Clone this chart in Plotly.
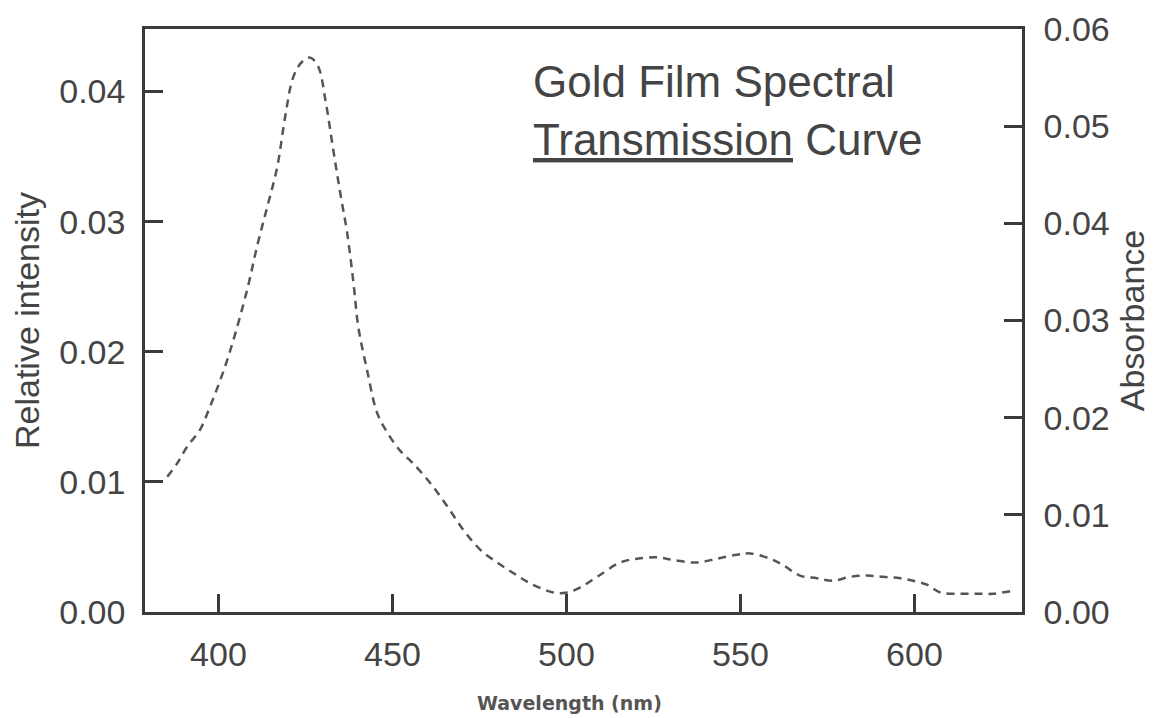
import plotly.graph_objects as go

# Curva de transmissão
comprimento_onda = [385.3, 388.1, 391.0, 394.7, 397.6, 400.5, 403.4, 408.2, 411.1, 414.0,
                    416.9, 419.2, 421.5, 424.1, 426.4, 428.7, 430.7, 433.0, 435.0, 437.0,
                    438.8, 440.2, 442.7, 445.6, 448.5, 452.2, 456.0, 460.9, 465.8, 470.4,
                    475.2, 480.1, 484.7, 489.6, 496.2, 500.2, 504.0, 508.8, 515.4, 520.3,
                    526.0, 530.6, 537.5, 543.3, 549.0, 552.8, 558.5, 562.3, 567.1, 572.0,
                    576.6, 581.5, 586.4, 591.0, 595.9, 599.6, 603.6, 607.4, 613.1, 618.0,
                    622.6, 627.5]
intensidade = [0.0104, 0.0114, 0.0127, 0.0140, 0.0158, 0.0178, 0.0201, 0.0247, 0.0281, 0.0311,
               0.0342, 0.0381, 0.0411, 0.0423, 0.0426, 0.0419, 0.0394, 0.0355, 0.0322, 0.0291,
               0.0253, 0.0219, 0.0186, 0.0153, 0.0138, 0.0124, 0.0114, 0.0099, 0.0081, 0.0063,
               0.0048, 0.0038, 0.0030, 0.0022, 0.0015, 0.0015, 0.0019, 0.0027, 0.0038, 0.0041,
               0.0042, 0.0040, 0.0038, 0.0041, 0.0044, 0.0045, 0.0041, 0.0036, 0.0028, 0.0026,
               0.0024, 0.0027, 0.0028, 0.0027, 0.0026, 0.0024, 0.0021, 0.0015, 0.0014, 0.0014,
               0.0014, 0.0016]

ticks_x = [400, 450, 500, 550, 600]
ticks_y_esq = [0.00, 0.01, 0.02, 0.03, 0.04]
ticks_y_dir = [0.00, 0.01, 0.02, 0.03, 0.04, 0.05, 0.06]

fonte = "Liberation Sans, Arial, sans-serif"
cinza = "#444444"
linha = "#3a3a3a"

fig = go.Figure()
fig.add_trace(go.Scatter(
    x=comprimento_onda, y=intensidade, mode="lines",
    line=dict(color="#555555", width=2.5, dash="8px,6px", shape="spline"),
    showlegend=False, hoverinfo="skip",
))
# traço invisível só para ativar o eixo da direita
fig.add_trace(go.Scatter(x=[None], y=[None], yaxis="y2", showlegend=False))

eixo = dict(showgrid=False, zeroline=False, showline=True, linecolor=linha, linewidth=2.5,
            ticks="inside", ticklen=18, tickwidth=2.5, tickcolor=linha, automargin=False,
            ticklabeloverflow="allow",
            tickfont=dict(family=fonte, size=34, color=cinza))

# a página tem 8px de margem no body, por isso a figura é 8px menor
fig.update_layout(
    width=1149, height=710,
    margin=dict(l=137, r=135, t=21, b=106),
    plot_bgcolor="white", paper_bgcolor="white",
    xaxis=dict(eixo, range=[378.9, 630.9], tickvals=ticks_x, mirror=True,
               ticklabelstandoff=10),
    yaxis=dict(eixo, range=[0, 0.0448], tickvals=ticks_y_esq, tickformat=".2f",
               ticklabelstandoff=10,
               title=dict(text="Relative intensity", standoff=12,
                          font=dict(family=fonte, size=34, color=cinza))),
    yaxis2=dict(eixo, range=[0, 0.06], tickvals=ticks_y_dir, tickformat=".2f",
                overlaying="y", side="right", ticklabelstandoff=12,
                title=dict(text="Absorbance", standoff=12,
                           font=dict(family=fonte, size=34, color=cinza))),
    annotations=[
        dict(text="Gold Film Spectral", xref="paper", yref="paper", x=0.44, y=0.91,
             xanchor="left", yanchor="middle", showarrow=False,
             font=dict(family=fonte, size=44, color=cinza)),
        dict(text="<span style='text-decoration:underline'>Transmission</span> Curve",
             xref="paper", yref="paper", x=0.44, y=0.81,
             xanchor="left", yanchor="middle", showarrow=False,
             font=dict(family=fonte, size=44, color=cinza)),
        dict(text="<b>Wavelength (nm)</b>", xref="paper", yref="paper", x=0.4846, y=-0.156,
             xanchor="center", yanchor="middle", showarrow=False,
             font=dict(family="DejaVu Sans", size=19, color="#555555")),
    ],
)

fig.write_html("out.html")
